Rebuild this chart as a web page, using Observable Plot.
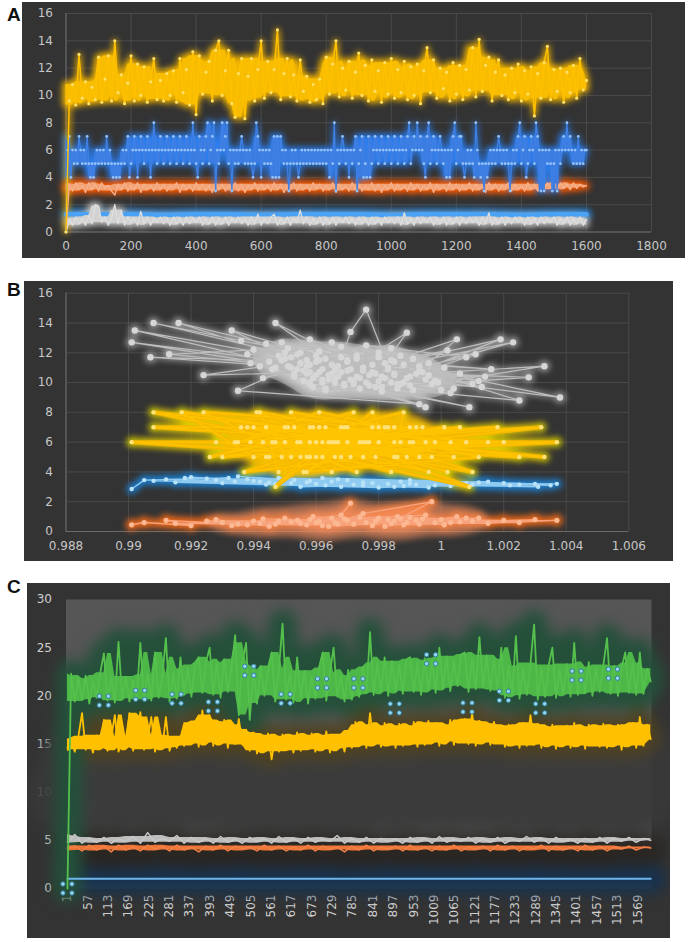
<!DOCTYPE html>
<html><head><meta charset="utf-8">
<script src="https://cdn.jsdelivr.net/npm/d3@7"></script>
<script src="https://cdn.jsdelivr.net/npm/@observablehq/plot@0.6"></script>
<style>
html,body{margin:0;padding:0;background:#fff}
body{width:692px;height:942px;position:relative;overflow:hidden}
.panel{position:absolute;background:#333333;overflow:hidden}
.panel svg{position:absolute;left:0;top:0}
.lab{position:absolute;font:bold 19px "Liberation Sans",Arial,sans-serif;color:#111;line-height:1}
</style></head><body>
<div class="lab" style="left:7px;top:5px">A</div>
<div class="lab" style="left:7px;top:280px">B</div>
<div class="lab" style="left:7px;top:577px">C</div>
<div id="pA" class="panel" style="left:22px;top:2px;width:663px;height:256px"></div>
<div id="pB" class="panel" style="left:24px;top:281px;width:649px;height:280px"></div>
<div id="pC" class="panel" style="left:27px;top:583px;width:643px;height:355px"></div>
<script>
// ================= DATA =================
// ---- Panel A (x = sample index 0..1600) ----
const A_X_TICKS = [0,200,400,600,800,1000,1200,1400,1600,1800];
const A_Y_TICKS = [0,2,4,6,8,10,12,14,16];
const A_yellow = [
0,9.6,10.8,9.3,13.0,9.8,11.0,9.4,10.6,9.7,
12.8,9.5,11.2,12.9,9.6,14.0,10.2,11.5,9.4,10.9,
12.9,9.6,12.3,10.0,12.1,9.5,11.0,12.7,9.7,11.1,
9.6,11.6,10.0,11.8,9.5,12.7,10.2,11.9,9.3,13.2,
8.6,12.9,10.1,11.7,12.5,9.6,13.3,14.0,10.0,11.8,
13.3,9.4,8.4,11.6,12.7,8.3,11.4,12.7,9.6,11.9,
14.0,9.8,12.5,10.2,11.9,14.8,9.7,11.6,12.7,9.9,
11.5,9.6,12.6,10.3,11.4,9.5,10.8,9.7,11.2,9.4,
12.8,10.1,12.3,14.0,9.9,12.0,10.4,12.5,9.8,11.7,
13.1,10.0,12.2,9.6,12.6,10.3,11.8,9.5,12.4,10.1,
12.7,9.8,11.9,10.2,12.5,9.7,12.1,10.0,12.3,9.4,
11.8,13.5,10.2,12.6,9.8,12.0,10.5,11.7,9.6,12.4,
10.1,12.2,9.7,11.9,10.4,13.5,9.9,14.1,10.3,12.2,
12.8,9.6,11.7,12.6,10.0,11.5,9.7,12.0,10.2,12.3,
9.6,11.8,10.1,12.1,8.5,11.6,9.8,12.4,13.6,9.7,
11.9,10.3,12.0,9.5,11.7,10.2,12.2,9.8,12.7,10.4,
11.1];
// integer levels of the blue step series, one every 5 samples
const A_blueLevels = "0674656576" + "5657545456" + "5656575654" + "5454565674" +
 "5676467656" + "7646865676" + "5676567656" + "7656765686" + "5476567856" + "7836568678" +
 "5636565676" + "5656545876" + "4656565474" + "7476565356" + "5654565656" + "5656565656" +
 "5646583656" + "7656465673" + "5674547456" + "7656765676" + "5676567656" + "7856768676" +
 "5478567656" + "7656464678" + "5677545656" + "5486545354" + "5656567656" + "5653565678" +
 "5674567658" + "7636365653" + "5636567686" + "7656575656" + "6";
const A_orange = [
0,3.5,3.0,3.6,3.1,3.4,2.9,3.6,3.1,3.5,
3.0,3.6,3.2,3.4,3.0,2.7,3.5,3.1,3.6,3.0,
3.4,3.1,3.6,2.9,3.5,3.1,3.4,3.0,3.6,3.1,
3.5,3.0,3.4,3.2,3.6,2.9,3.5,3.1,3.4,3.0,
3.6,3.1,3.5,3.0,3.4,2.9,3.6,3.1,3.5,3.0,
3.4,3.1,3.6,3.0,3.5,2.9,3.4,3.1,3.6,3.0,
3.5,3.1,3.4,3.0,3.6,3.1,3.5,2.9,3.4,3.1,
3.6,3.0,3.5,3.1,3.4,3.0,3.6,3.2,3.5,3.0,
3.4,3.1,3.6,2.9,3.5,3.1,3.4,3.0,3.6,3.1,
3.5,3.0,3.4,3.1,3.6,3.0,3.5,2.9,3.4,3.1,
3.6,3.0,3.5,3.1,3.4,3.0,3.6,3.1,3.5,3.0,
3.4,3.1,3.6,2.9,3.5,3.1,3.4,3.0,3.6,3.1,
3.5,3.0,3.4,3.1,3.6,3.0,3.5,3.1,3.4,2.9,
3.6,3.1,3.5,3.0,3.4,3.2,3.6,3.0,3.5,3.1,
3.4,3.0,3.6,3.1,3.5,3.0,3.4,3.1,3.6,3.2,
3.5,3.1,3.6,3.2,3.5,3.1,3.6,3.2,3.5,3.3,
3.4];
const A_gray = [
0,0.9,0.5,1.1,0.6,1.0,0.5,1.2,0.6,2.0,
1.9,0.7,1.1,0.5,1.0,2.0,0.6,1.6,0.5,1.1,
0.7,1.0,0.5,1.5,0.6,1.1,0.5,1.0,0.7,1.1,
0.6,1.0,0.5,1.1,0.6,1.0,0.5,1.1,0.6,1.0,
0.7,1.1,0.5,1.0,0.6,1.1,0.5,1.0,0.6,1.1,
0.5,1.0,0.7,1.1,0.6,1.0,0.5,1.1,0.6,1.3,
0.5,1.0,0.6,1.1,1.3,0.5,1.0,0.6,1.1,0.5,
1.0,0.7,1.6,0.6,1.1,0.5,1.0,0.6,1.1,0.5,
1.0,0.6,1.1,0.5,1.0,0.7,1.1,0.6,1.0,0.5,
1.1,0.6,1.0,0.5,1.1,0.6,1.0,0.5,1.1,0.7,
1.0,0.6,1.1,0.5,1.4,0.6,1.0,0.5,1.1,0.6,
1.0,0.7,1.1,0.5,1.0,0.6,1.1,0.5,1.0,0.6,
1.1,0.5,1.0,0.6,1.1,0.7,1.0,0.5,1.1,0.6,
1.4,0.5,1.0,0.6,1.1,0.5,1.0,0.6,1.1,0.7,
1.0,0.5,1.1,0.6,1.0,0.5,1.1,0.6,1.0,0.7,
1.1,0.5,1.0,0.6,1.1,0.5,1.0,0.6,1.1,0.5,
0.9];
const A_blueLow = [1.3,1.3,1.3,1.25,1.3,1.3,1.25,1.3,1.3,1.3,1.25,1.3,1.3,1.3,1.25,1.3,1.3];

// ---- Panel B ([x, y] pairs in recorded order) ----
const B_X_TICKS = [0.988,0.990,0.992,0.994,0.996,0.998,1.000,1.002,1.004,1.006];
const B_Y_TICKS = [0,2,4,6,8,10,12,14,16];
const B_gray = [
[0.9965,10.6],[0.9901,12.7],[0.9958,11.2],[0.9972,10.1],[0.9902,13.5],[0.9948,11.8],[0.9981,10.4],[0.9908,14.0],[0.9955,12.0],[0.9990,9.8],
[0.9962,10.9],[0.9916,14.0],[0.9944,12.6],[0.9978,10.7],[0.9907,11.7],[0.9960,11.4],[0.9995,10.2],[0.9913,11.9],[0.9951,12.3],[0.9969,9.9],
[0.9933,13.5],[0.9975,11.0],[0.9947,14.0],[0.9963,11.6],[0.9986,9.6],[0.9976,14.9],[0.9971,13.4],[0.9966,10.3],[0.9989,13.35],[0.9982,11.3],
[1.0005,12.9],[0.9993,10.8],[1.0019,12.9],[0.9958,10.0],[1.0023,12.7],[0.9985,10.5],[1.0033,11.1],[0.9997,9.9],[1.0028,10.35],[0.9970,10.8],
[1.0038,9.0],[0.9988,11.2],[1.0025,8.8],[0.9979,9.7],[1.0009,8.35],[0.9964,10.2],[0.9995,8.35],[0.9952,11.0],[0.9993,8.55],[0.9935,9.45],
[0.9957,11.5],[0.9924,10.5],[0.9961,10.7],[1.0002,12.15],[0.9984,10.0],[1.0011,11.9],[0.9973,11.8],[0.9958,12.9],[0.9967,11.1],[1.0006,10.6],
[0.9945,11.4],[0.9974,9.6],[1.0001,11.0],[0.9940,12.2],[0.9983,10.9],[0.9953,10.4],[0.9998,10.1],[0.9938,11.9],[0.9968,12.4],[0.9987,9.9],
[0.9950,11.6],[1.0004,9.6],[0.9961,12.1],[0.9977,10.5],[1.0014,10.4],[0.9956,10.8],[0.9991,11.6],[0.9942,11.1],[0.9980,12.0],[1.0003,9.3],
[0.9966,10.0],[0.9949,12.7],[0.9985,11.4],[1.0016,10.9],[0.9970,11.5],[0.9936,12.8],[0.9992,10.6],[0.9959,9.7],[1.0008,11.7],[0.9976,12.5],
[0.9946,10.9],[0.9996,11.3],[0.9963,9.5],[1.0012,10.1],[0.9954,11.9],[0.9981,9.4],[0.9939,11.3],[0.9973,10.4],[1.0000,9.5],[0.9957,10.6],
[0.9984,12.3],[0.9943,10.3],[0.9968,11.7],[1.0010,9.9],[0.9951,11.1],[0.9989,10.3],[0.9965,12.7],[1.0013,9.7],[0.9960,10.5],[0.9987,11.8],
[0.9962,10.2],[0.9971,10.9],[0.9955,11.3],[0.9980,10.1],[0.9966,11.0],[0.9974,10.3],[0.9958,10.7],[0.9985,10.6],[0.9969,9.8],[0.9952,11.7],
[0.9978,11.2],[0.9964,10.5],[0.9990,10.4],[0.9957,11.1],[0.9972,9.9],[0.9983,11.0],[0.9961,11.5],[0.9976,10.0],[0.9949,11.5],[0.9994,10.7],
[0.9967,10.4],[0.9981,9.7],[0.9954,10.9],[0.9970,11.4],[0.9988,10.0],[0.9959,10.3],[0.9975,10.8],[0.9963,9.6],[0.9996,10.5],[0.9950,12.0],
[0.9979,10.6],[0.9965,11.2],[0.9986,9.9],[0.9956,10.1],[0.9973,11.6],[0.9991,9.5],[0.9968,10.7],[0.9982,10.3],[0.9960,11.8],[0.9977,9.8],
[0.9947,11.0],[0.9993,11.1],[0.9971,10.2],[0.9958,9.9],[0.9984,11.5],[0.9966,10.8],[0.9999,10.0],[0.9953,10.6],[0.9980,11.7],[0.9962,10.0]];
const B_yellow = [
[0.9960,6],[0.9901,6],[0.9975,5],[0.9908,8],[0.9950,7],[0.9908,7],[0.9985,6],[0.9917,8],[0.9940,5],[0.9990,7],
[0.9924,8],[0.9965,4],[0.9970,6],[0.9941,8],[0.9955,5],[0.9998,6],[0.9942,8],[0.9948,4],[0.9980,7],[0.9952,8],
[0.9962,5],[1.0008,6],[0.9961,8],[0.9935,6],[0.9972,8],[0.9947,3],[0.9978,8],[0.9985,5],[0.9988,8],[0.9968,7],
[1.0010,4],[0.9958,6],[1.0032,7],[0.9945,5],[1.0037,6],[0.9975,6],[1.0033,5],[0.9938,7],[1.0020,6],[0.9966,5],
[1.0009,3],[0.9958,7],[1.0025,5],[0.9950,6],[0.9996,4],[0.9944,7],[1.0015,6],[0.9957,5],[0.9983,7],[0.9930,5],
[0.9990,6],[0.9963,7],[0.9926,5],[0.9970,7],[1.0004,5],[0.9955,6],[0.9992,7],[0.9946,6],[0.9979,5],[0.9937,4],
[0.9967,6],[1.0001,7],[0.9952,5],[0.9987,6],[0.9940,7],[0.9973,4],[0.9960,5],[0.9995,6],[0.9934,6],[0.9982,7],
[0.9956,4],[1.0012,5],[0.9969,7],[0.9943,6],[0.9986,5],[0.9964,6],[1.0006,7],[0.9949,5],[0.9976,6],[0.9953,7],
[0.9993,5],[0.9939,6],[0.9971,5],[1.0003,6],[0.9959,7],[0.9984,4],[0.9947,6],[0.9978,7],[0.9954,6],[1.0018,7],
[0.9962,6],[0.9989,5],[0.9936,7],[0.9974,6],[0.9957,4],[0.9997,5],[0.9966,6],[1.0002,4],[0.9951,7],[0.9980,6],
[0.9928,6],[0.9968,5],[0.9994,7],[0.9944,5],[0.9977,6],[0.9961,7],[0.9991,6],[0.9958,5],[0.9985,7],[0.9965,6]];
const B_blue = [
[0.9901,2.85],[0.9905,3.45],[0.9932,3.6],[0.9912,3.5],[0.9945,3.3],[0.9920,3.65],[0.9960,3.2],[0.9925,3.55],[0.9975,3.1],[0.9935,3.7],
[0.9985,3.0],[0.9940,3.4],[0.9950,3.5],[0.9965,3.35],[0.9930,3.25],[0.9990,3.2],[0.9955,3.0],[1.0005,3.3],[0.9970,3.45],[0.9915,3.3],
[0.9980,2.95],[1.0010,3.15],[0.9962,3.6],[1.0020,3.25],[0.9944,3.15],[1.0030,3.2],[0.9990,3.45],[1.0035,3.1],[0.9975,3.3],[1.0037,3.2],
[0.9952,3.25],[1.0015,3.35],[0.9968,3.0],[1.0025,3.15],[0.9938,3.5],[0.9998,3.1],[0.9958,3.4],[1.0008,3.25],[0.9948,3.6],[0.9983,3.2],
[0.9928,3.45],[0.9972,3.15],[1.0003,3.05],[0.9942,3.35],[0.9987,3.35],[0.9918,3.6],[0.9963,3.1],[1.0012,3.3],[0.9953,3.45],[1.0031,3.0],
[0.9908,3.4],[0.9978,3.25],[0.9996,2.95],[0.9947,3.2],[1.0022,3.1],[0.9967,3.5],[0.9934,3.35],[0.9992,3.15],[0.9957,3.3],[0.9988,3.05]];
const B_orange = [
[0.9901,0.45],[0.9905,0.6],[0.9920,0.4],[0.9912,0.75],[0.9935,0.5],[0.9928,0.8],[0.9945,0.35],[0.9940,0.7],[0.9955,0.55],[0.9950,0.9],
[0.9962,0.4],[0.9958,0.8],[0.9968,1.1],[0.9971,1.9],[0.9966,0.6],[0.9975,1.2],[0.9997,2.0],[0.9985,0.7],[0.9978,0.4],[0.9990,0.95],
[0.9972,0.5],[1.0000,0.8],[0.9982,0.35],[1.0005,1.0],[0.9993,0.5],[1.0010,0.7],[0.9965,0.9],[1.0020,0.75],[0.9988,0.45],[1.0030,0.8],
[0.9998,0.6],[1.0037,0.75],[1.0015,0.55],[0.9960,0.6],[1.0008,0.9],[0.9948,0.7],[0.9995,1.1],[0.9938,0.45],[0.9980,0.9],[0.9930,0.6],
[0.9970,0.75],[0.9915,0.55],[0.9957,0.45],[1.0003,0.6],[0.9943,0.85],[0.9984,0.55],[0.9952,0.65],[1.0012,0.9],[0.9964,0.35],[0.9992,0.75],
[0.9925,0.7],[0.9976,0.6],[1.0025,0.6],[0.9986,1.0],[0.9947,0.5],[0.9969,0.85],[1.0001,0.45],[0.9959,1.0],[0.9979,0.7],[0.9933,0.4],
[0.9987,0.85],[0.9954,0.75],[1.0006,0.65],[0.9967,0.5],[0.9994,0.85],[0.9942,0.55],[0.9974,0.95],[0.9989,0.6],[0.9961,0.7],[0.9983,0.8]];

// ---- Panel C (x = record number 1..~1605) ----
const C_X_TICKS = [1,57,113,169,225,281,337,393,449,505,561,617,673,729,785,841,897,953,1009,1065,1121,1177,1233,1289,1345,1401,1457,1513,1569];
const C_Y_TICKS = [0,5,10,15,20,25,30];
const C_green = [
0,22.3,19.4,21.8,19.6,22.1,19.2,21.5,19.8,22.4,
24.4,19.5,21.9,19.3,25.6,19.7,22.0,19.4,21.6,19.9,
25.5,19.6,22.2,19.5,24.5,19.8,21.9,26.0,19.4,22.3,
19.7,24.0,20.2,22.8,19.9,23.2,24.0,20.3,23.5,25.0,
20.1,23.4,19.8,23.8,20.4,22.9,26.3,18.0,23.6,25.5,
17.5,22.7,19.2,23.1,20.0,22.5,24.5,19.4,22.8,27.5,
19.6,22.3,19.3,24.0,19.8,22.6,19.2,22.0,19.7,22.9,
24.5,19.5,22.4,25.0,19.9,22.1,19.4,22.7,19.6,21.8,
19.9,23.0,20.3,26.6,20.1,23.4,20.4,24.0,20.0,23.6,
20.5,23.2,20.2,23.8,24.0,20.4,23.5,20.1,23.9,20.6,
23.7,20.3,25.0,20.8,24.1,20.5,23.6,21.0,24.3,24.5,
20.4,23.9,20.7,26.1,20.9,24.2,20.5,23.8,20.6,25.0,
19.8,23.1,20.0,26.2,19.7,22.8,20.1,23.4,27.4,19.6,
22.9,19.9,23.2,25.0,19.8,22.7,20.2,23.3,19.9,25.5,
20.1,23.0,20.3,23.5,20.0,22.8,20.4,23.2,26.0,20.2,
23.1,20.0,22.9,24.5,20.3,23.4,20.1,24.5,20.2,22.8,
21.5];
const C_yellow = [
14.6,15.5,14.2,15.8,18.2,14.4,15.6,14.1,15.9,14.5,
17.5,14.3,15.7,18.0,14.2,15.4,14.6,18.2,14.3,15.8,
18.3,14.4,15.5,17.8,14.2,15.9,14.5,17.8,14.3,15.6,
14.6,15.8,14.8,17.2,15.0,17.4,14.7,18.5,15.2,18.0,
14.8,17.3,15.1,17.5,14.6,17.0,15.0,17.6,14.9,16.5,
14.3,16.2,14.0,15.9,14.4,16.1,13.4,15.8,14.2,16.0,
14.5,15.7,14.1,16.2,14.3,15.9,14.6,16.1,14.2,15.8,
14.4,16.3,14.1,15.9,14.5,16.0,14.2,16.4,14.6,17.3,
14.8,17.0,14.6,18.2,14.9,16.8,14.7,17.2,15.0,16.9,
14.6,17.1,14.8,16.7,15.0,17.3,14.7,16.9,14.9,17.4,
15.1,17.2,14.8,16.8,15.2,17.5,14.9,17.0,15.3,17.6,
15.0,18.2,14.8,17.4,15.2,17.1,14.9,17.3,15.1,16.9,
14.7,17.0,14.9,16.8,14.6,17.2,14.8,18.0,14.9,17.1,
14.6,16.8,14.9,17.0,14.5,16.7,14.8,16.9,14.6,17.2,
14.8,16.8,14.5,17.0,14.9,16.6,14.7,17.1,14.6,16.9,
14.8,17.0,14.4,16.7,14.9,17.2,14.6,17.8,14.8,17.0,
15.5];
const C_gray = [
4.8,5.6,4.7,5.2,4.8,5.3,4.7,5.1,4.9,5.4,
4.7,5.8,4.8,5.2,4.9,5.5,4.7,5.3,4.8,5.2,
4.7,5.4,4.8,5.1,4.7,5.3,4.9,5.2,4.7,5.4,
4.8,5.2,4.7,5.3,4.8,5.1,4.9,5.5,4.7,5.2,
4.8,5.3,4.7,5.2,4.9,5.1,4.7,5.3,4.8,5.2,
4.7,5.4,4.8,5.1,4.9,5.3,4.7,5.2,4.8,5.3,
4.7,5.1,4.9,5.4,4.8,5.2,4.7,5.3,4.9,5.1,
4.7,5.2,4.8,5.3,4.7,5.2,4.9,5.3,4.8,5.2,
5.0];
const C_orange = [
4.2,4.4,3.9,4.5,4.0,4.4,3.8,4.5,4.0,4.3,
3.9,4.5,4.1,4.4,3.9,4.5,4.0,4.3,3.8,4.4,
4.0,4.5,3.9,4.4,4.1,4.3,3.9,4.5,4.0,4.4,
3.9,4.3,4.0,4.5,3.9,4.4,4.1,4.3,3.8,4.4,
4.0,4.5,3.9,4.3,4.1,4.4,3.9,4.5,4.0,4.3,
3.9,4.4,4.0,4.5,3.9,4.3,4.1,4.4,3.9,4.5,
4.0,4.4,3.9,4.3,4.1,4.5,3.9,4.4,4.0,4.3,
3.9,4.5,4.0,4.4,3.9,4.3,4.1,4.4,4.0,4.3,
4.2];
const C_blue = [1.0,1.0,1.0,1.0,1.0,1.0,1.0,1.0,1.0,1.0,1.0,1.0,1.0,1.0,1.0,1.0,1.0];
const C_MARK_IDX = [1,101,201,301,401,501,601,701,801,901,1001,1101,1201,1301,1401,1501];
const C_MARK_VAL = [0,19.5,20.1,19.7,18.9,22.6,19.7,21.3,21.3,18.7,23.8,18.8,20.0,18.7,22.1,22.3];

// ================= TABLES =================
const spread = (vals, x0, x1) => vals.map((v, i) => ({x: x0 + i * (x1 - x0) / (vals.length - 1), y: v}));
// dense body of a noisy series: typical low/high of neighbouring segments (isolated spikes left to the line)
function bandOf(t, k = 2) {
  const seg = t.map((d, i) => { const n = t[Math.min(i + 1, t.length - 1)]; return [Math.min(d.y, n.y), Math.max(d.y, n.y)]; });
  return t.map((d, i) => {
    const w = seg.slice(Math.max(0, i - k), i + k + 1);
    return {x: d.x, lo: d3.median(w, s => s[0]), hi: d3.median(w, s => s[1])};
  });
}
const tAy = spread(A_yellow, 0, 1600), bAy = bandOf(tAy);
const tAb = spread(A_blueLevels.split("").map(Number), 0, 1600), bAb = bandOf(tAb);
const tAo = spread(A_orange, 0, 1600), bAo = bandOf(tAo);
const tAg = spread(A_gray, 0, 1600), bAg = bandOf(tAg);
const tAl = spread(A_blueLow, 0, 1600);
const tCg = spread(C_green, 1, 1605), bCg = bandOf(tCg);
const tCy = spread(C_yellow, 1, 1605), bCy = bandOf(tCy);
const tCgr = spread(C_gray, 1, 1605), bCgr = bandOf(tCgr);
const tCo = spread(C_orange, 1, 1605), bCo = bandOf(tCo);
const tCb = spread(C_blue, 1, 1605);
const tCm = C_MARK_IDX.map((x, i) => ({x, y: C_MARK_VAL[i]}));
const px = d => d[0], py = d => d[1];

// ================= HELPERS =================
const FONT = "DejaVu Sans, sans-serif";
function mkPlot(o, marks, withAxes) {
  return Plot.plot({
    width: o.w, height: o.h,
    marginLeft: o.ml, marginRight: o.mr, marginTop: o.mt, marginBottom: o.mb,
    style: {background: "transparent", color: o.color || "#c6c6c6", fontSize: "12px", fontFamily: FONT, overflow: "visible"},
    x: Object.assign({domain: o.xd, label: null}, withAxes ? o.xa : {axis: null}),
    y: Object.assign({domain: o.yd, label: null}, withAxes ? o.ya : {axis: null}),
    marks
  });
}
function mount(id, layers) {
  const el = document.getElementById(id);
  for (const [svg, blur] of layers) {
    if (blur) svg.style.filter = `blur(${blur}px)`;
    el.appendChild(svg);
  }
}
const L = (data, o) => Plot.line(data, Object.assign({x: "x", y: "y", curve: "linear"}, o));
const D = (data, o) => Plot.dot(data, Object.assign({x: "x", y: "y", stroke: null}, o));
const AR = (data, o) => Plot.areaY(data, Object.assign({x: "x", y1: "lo", y2: "hi", curve: "linear"}, o));
const DENS = (data, o) => (typeof Plot.density === "function")
  ? Plot.density(data, Object.assign({x: d => d[0], y: d => d[1], stroke: "none"}, o)) : null;

// ================= PANEL A =================
const oA = {w: 663, h: 256, ml: 43.5, mr: 34, mt: 11, mb: 26.5, xd: [0, 1800], yd: [0, 16],
  xa: {ticks: A_X_TICKS, tickFormat: d => String(d), tickSize: 0, tickPadding: 9},
  ya: {ticks: A_Y_TICKS, tickFormat: d => String(d), tickSize: 0, tickPadding: 13}};
mount("pA", [
  [mkPlot(oA, [
    Plot.ruleX(A_X_TICKS, {stroke: "#4a4a4a"}),
    Plot.ruleY(A_Y_TICKS, {stroke: "#4a4a4a"}),
    Plot.ruleX([A_X_TICKS[0]], {stroke: "#6a6a6a"}),
    Plot.ruleY([A_Y_TICKS[0]], {stroke: "#6a6a6a"})
  ], true), 0],
  [mkPlot(oA, [
    L(tAl, {stroke: "#1f8cf0", strokeWidth: 10}),
    AR(bAg, {fill: "#c4c4c4", stroke: "#c4c4c4", strokeWidth: 6}),
    AR(bAo, {fill: "#ff5a00", stroke: "#ff5a00", strokeWidth: 7}),
    AR(bAb, {fill: "#2a7ef0", stroke: "#2a7ef0", strokeWidth: 5}),
    L(tAb, {stroke: "#2a7ef0", strokeWidth: 3}),
    AR(bAy, {fill: "#f2b400", stroke: "#f2b400", strokeWidth: 6}),
    L(tAy, {stroke: "#f2b400", strokeWidth: 4})
  ], false), 3],
  [mkPlot(oA, [
    L(tAl, {stroke: "#4aa2f5", strokeWidth: 4.5}),
    AR(bAg, {fill: "#d2d2d2"}), L(tAg, {stroke: "#dedede", strokeWidth: 1.4}),
    AR(bAo, {fill: "#f3a274"}), L(tAo, {stroke: "#f7b08a", strokeWidth: 1.4}),
    AR(bAb, {fill: "#3b7ce2"}), L(tAb, {stroke: "#3f80e4", strokeWidth: 1.3}),
    D(tAb, {r: 1.4, fill: "#94c2f8"}),
    AR(bAy, {fill: "#f8bd00"}), L(tAy, {stroke: "#ffc000", strokeWidth: 1.5}),
    D(tAy, {r: 1.6, fill: "#ffe066"})
  ], false), 0]
]);

// ================= PANEL B =================
const oB = {w: 649, h: 280, ml: 41.5, mr: 44.7, mt: 11.7, mb: 30, xd: [0.988, 1.006], yd: [0, 16],
  xa: {ticks: B_X_TICKS, tickFormat: d => String(+d.toFixed(3)), tickSize: 0, tickPadding: 10},
  ya: {ticks: B_Y_TICKS, tickFormat: d => String(d), tickSize: 0, tickPadding: 13}};
const LB = (data, o) => Plot.line(data, Object.assign({x: px, y: py}, o));
const DB = (data, o) => Plot.dot(data, Object.assign({x: px, y: py, stroke: null}, o));
mount("pB", [
  [mkPlot(oB, [
    Plot.ruleX(B_X_TICKS, {stroke: "#4a4a4a"}),
    Plot.ruleY(B_Y_TICKS, {stroke: "#4a4a4a"}),
    Plot.ruleX([B_X_TICKS[0]], {stroke: "#6a6a6a"}),
    Plot.ruleY([B_Y_TICKS[0]], {stroke: "#6a6a6a"})
  ], true), 0],
  [mkPlot(oB, [
    LB(B_blue, {stroke: "#1c7fd0", strokeWidth: 8}), DB(B_blue, {r: 5, fill: "#1c7fd0"}),
    LB(B_orange, {stroke: "#f06a1a", strokeWidth: 8}), DB(B_orange, {r: 6, fill: "#f06a1a"}),
    DENS(B_orange, {bandwidth: 10, thresholds: 3, fill: "#f49060", fillOpacity: 0.6}),
    LB(B_yellow, {stroke: "#e0c800", strokeWidth: 8}), DB(B_yellow, {r: 5, fill: "#d8d000"}),
    DENS(B_yellow, {bandwidth: 12, thresholds: 3, fill: "#ffc000", fillOpacity: 0.8}),
    DB(B_gray, {r: 5.5, fill: "#bdbdbd", fillOpacity: 0.8}), LB(B_gray, {stroke: "#9a9a9a", strokeWidth: 3}),
    DENS(B_gray, {bandwidth: 12, thresholds: 3, fill: "#cfcfcf", fillOpacity: 0.75})
  ], false), 3],
  [mkPlot(oB, [
    LB(B_blue, {stroke: "#8fcaf0", strokeWidth: 1.4}), DB(B_blue, {r: 2.2, fill: "#b8e2f8"}),
    LB(B_orange, {stroke: "#f7a27a", strokeWidth: 1.4}), DB(B_orange, {r: 2.6, fill: "#fbb892"}),
    DENS(B_yellow, {bandwidth: 9, thresholds: 2, fill: "#f8bc00", fillOpacity: 0.85}),
    LB(B_yellow, {stroke: "#f5b800", strokeWidth: 4}),
    LB(B_yellow, {stroke: "#ffc400", strokeWidth: 1.4}), DB(B_yellow, {r: 2.2, fill: "#ffe27a"}),
    DENS(B_gray, {bandwidth: 10, thresholds: 4, fill: "#cccccc", fillOpacity: 0.45}),
    LB(B_gray, {stroke: "#bdbdbd", strokeWidth: 1.2}), DB(B_gray, {r: 3.2, fill: "#d6d6d6"})
  ], false), 0]
]);

// ================= PANEL C =================
const oC = {w: 643, h: 355, ml: 38.5, mr: 19, mt: 16, mb: 50, xd: [-3, 1607], yd: [0, 30], color: "#cfcfcf",
  xa: {ticks: C_X_TICKS, tickFormat: d => String(d), tickRotate: -90, tickSize: 0, tickPadding: 6},
  ya: {ticks: C_Y_TICKS, tickFormat: d => String(d), tickSize: 0, tickPadding: 14}};
const quad = [[-4.5, -4.5], [4.5, -4.5], [-4.5, 4.5], [4.5, 4.5]];
mount("pC", [
  [mkPlot(oC, [Plot.frame({fill: "#565656", stroke: "none"})], true), 0],
  [mkPlot(oC, [
    L(tCy, {stroke: "#383838", strokeWidth: 80, dy: 44, strokeOpacity: 0.9}),
    L(tCb, {stroke: "#17324f", strokeWidth: 30}),
    L(tCo, {stroke: "#2a2622", strokeWidth: 30, dy: 3}),
    L(tCy, {stroke: "#4f4220", strokeWidth: 18}),
    L(tCg, {stroke: "#24503a", strokeWidth: 28})
  ], false), 7],
  [mkPlot(oC, [
    L(tCb, {stroke: "#6db6ec", strokeWidth: 2}),
    AR(bCgr, {fill: "#bdbdbd"}), L(tCgr, {stroke: "#c8c8c8", strokeWidth: 1.5}),
    AR(bCo, {fill: "#ee7636"}), L(tCo, {stroke: "#f28048", strokeWidth: 1.5}),
    AR(bCy, {fill: "#ffc000"}), L(tCy, {stroke: "#ffc000", strokeWidth: 1.8}),
    AR(bCg, {fill: "#4db847"}), L(tCg, {stroke: "#55c04c", strokeWidth: 1.8}),
    ...quad.map(([dx, dy]) => D(tCm, {dx, dy, r: 2.2, fill: "#9ad6f0", stroke: "#2f7fa0", strokeWidth: 1}))
  ], false), 0]
]);
</script></body></html>
